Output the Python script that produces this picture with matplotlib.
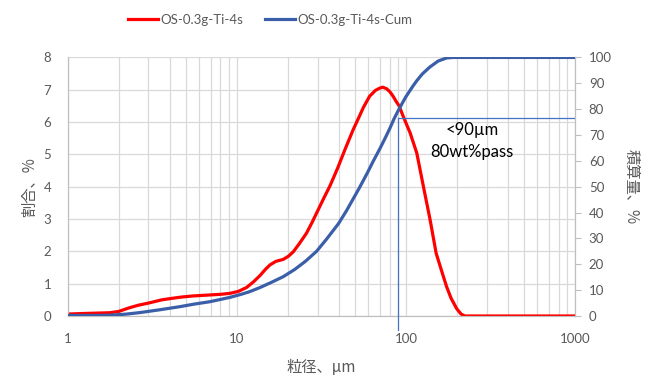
import matplotlib.pyplot as plt

plt.rcParams['font.family'] = ['Lato', 'Noto Sans CJK JP', 'DejaVu Sans']

# Data
size_um = [1, 1.3, 1.77, 2.0, 2.3, 2.6, 3.06, 3.6, 4.6, 5.5, 6.9, 8.0, 9.1, 10.2, 11.4, 12.5, 13.7,
           14.8, 15.7, 17.0, 18.8, 20.2, 21.6, 23.5, 25.8, 27.7, 29.6, 32.5, 35.5, 39.5, 43.6, 48.8,
           52, 56, 61, 66, 70, 73, 77, 80.6, 84, 88, 91, 96, 106, 116, 127, 139, 151, 163, 174, 185,
           200, 212, 223, 300, 500, 1000]
fraction = [0.06, 0.08, 0.10, 0.14, 0.25, 0.33, 0.41, 0.50, 0.58, 0.62, 0.65, 0.67, 0.70, 0.76, 0.88,
            1.05, 1.25, 1.45, 1.58, 1.69, 1.75, 1.85, 1.99, 2.25, 2.56, 2.87, 3.18, 3.62, 4.02, 4.58,
            5.15, 5.77, 6.08, 6.45, 6.80, 6.98, 7.05, 7.08, 7.03, 6.93, 6.80, 6.62, 6.51, 6.20, 5.66,
            5.04, 4.00, 2.98, 1.94, 1.38, 0.91, 0.55, 0.22, 0.06, 0.0, 0.0, 0.0, 0.0]
cum_size = [1, 1.5, 1.77, 2.2, 2.66, 3.5, 4.6, 5.6, 6.9, 8, 9.1, 10.5, 11.9, 13.7, 16, 18.8, 22, 25.5,
            29.6, 34, 40, 44.6, 53, 59, 64, 70, 75, 80.4, 85, 90, 95, 100, 110, 116, 125, 138, 155,
            174, 190, 300, 500, 1000]
cumulative = [0.2, 0.2, 0.3, 0.7, 1.3, 2.4, 3.6, 4.6, 5.5, 6.4, 7.2, 8.3, 9.4, 11.0, 13.0, 15.2, 18.0,
              21.2, 25.0, 29.8, 35.8, 40.8, 49.5, 55.2, 59.8, 64.6, 68.5, 72.6, 76.2, 79.4, 82.2, 84.8,
              88.9, 91.0, 93.6, 96.2, 98.6, 99.8, 100, 100, 100, 100]

d80 = 90
cum_at_d80 = 76.5

gray = '#595959'
fig, ax = plt.subplots(figsize=(6.46, 3.83), dpi=100)
fig.subplots_adjust(left=0.105, right=0.89, top=0.85, bottom=0.175)
ax2 = ax.twinx()

l1, = ax.plot(size_um, fraction, color='#FF0000', lw=2.3, label='OS-0.3g-Ti-4s', zorder=3)
l2, = ax2.plot(cum_size, cumulative, color='#3A5FA8', lw=2.3, label='OS-0.3g-Ti-4s-Cum', zorder=3)

ax.set_xscale('log')
ax.set_xlim(1, 1000)
ax.set_ylim(0, 8)
ax2.set_ylim(0, 100)
ax.set_yticks(range(0, 9))
ax2.set_yticks(range(0, 101, 10))

ax.grid(True, which='major', axis='y', color='#D9D9D9', lw=0.9)
ax.grid(True, which='both', axis='x', color='#D9D9D9', lw=0.9)
ax.set_axisbelow(True)

for a in (ax, ax2):
    for s in a.spines.values():
        s.set_color('#BFBFBF')
    a.spines['top'].set_visible(False)
ax.tick_params(axis='both', which='both', length=0, colors=gray, labelsize=9.5)
ax.tick_params(axis='x', pad=12)
ax.tick_params(axis='y', pad=12)
ax2.tick_params(axis='y', length=4, color='#BFBFBF', colors=gray, labelsize=9.5, pad=6)
ax.set_xticks([1, 10, 100, 1000])
ax.set_xticklabels(['1', '10', '100', '1000'])

cjk = ['Noto Sans CJK JP', 'DejaVu Sans']
ax.set_xlabel('粒径、µm', color=gray, fontsize=11, family=cjk, labelpad=10)
ax.set_ylabel('割合、%', color=gray, fontsize=11, family=cjk, labelpad=4)
ax2.set_ylabel('積算量、%', color=gray, fontsize=11, family=cjk, rotation=270, labelpad=20)

# d80 marker lines
ax2.plot([d80, d80], [-5.5, cum_at_d80], color='#4472C4', lw=0.9, clip_on=False, zorder=4)
ax2.plot([d80, 1000], [cum_at_d80, cum_at_d80], color='#4472C4', lw=0.9, zorder=4)
ax2.text(246, 72, '<90µm', ha='center', va='center', fontsize=12, color='black')
ax2.text(246, 63.5, '80wt%pass', ha='center', va='center', fontsize=12, color='black')

fig.legend(handles=[l1, l2], loc='upper center', bbox_to_anchor=(0.418, 0.995), ncol=2,
           frameon=False, fontsize=9.5, labelcolor=gray, handlelength=2.3, columnspacing=1.6,
           handletextpad=0.2)

fig.savefig('out.png', dpi=100)
